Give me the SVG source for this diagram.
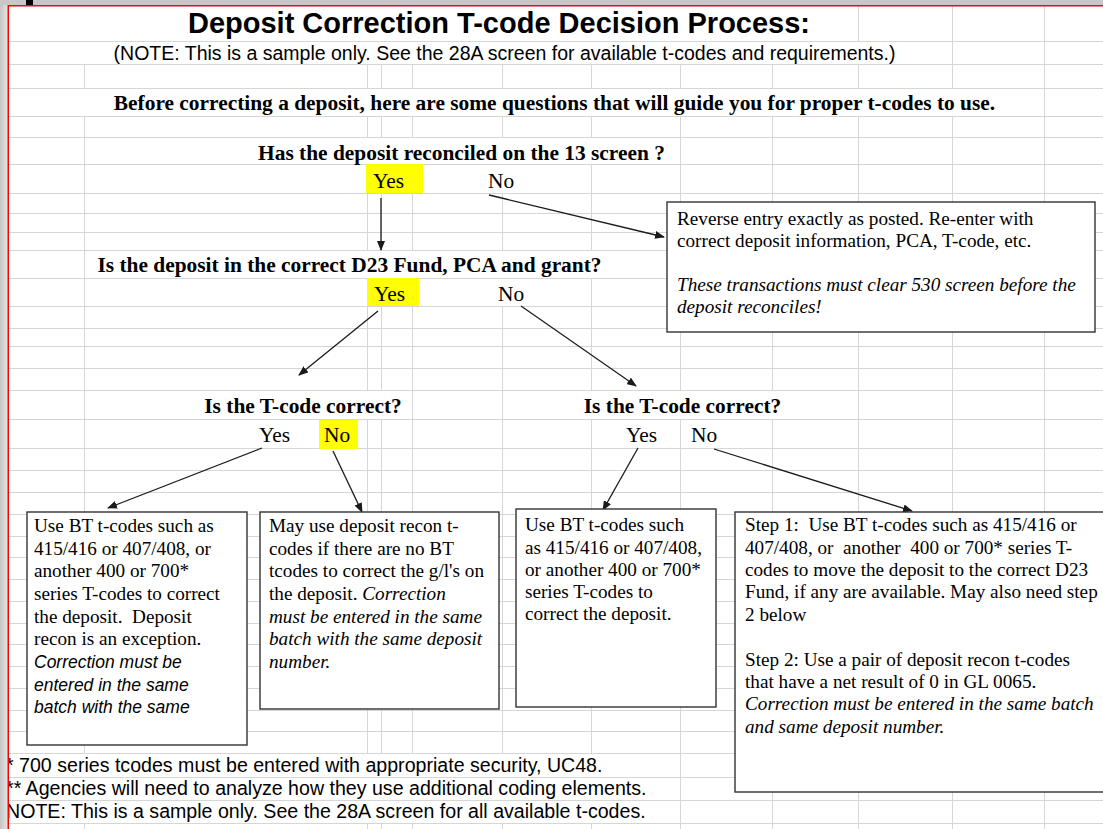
<svg xmlns="http://www.w3.org/2000/svg" width="1103" height="829" viewBox="0 0 1103 829">
<defs>
<marker id="ah" markerUnits="userSpaceOnUse" markerWidth="10" markerHeight="8" refX="9" refY="4" orient="auto">
<path d="M0,0 L10,4 L0,8 z" fill="#1a1a1a"/>
</marker>
<linearGradient id="lg" x1="0" y1="0" x2="1" y2="0">
<stop offset="0" stop-color="#c4c4c4"/>
<stop offset="1" stop-color="#e6e6e6"/>
</linearGradient>
<style>
.g{stroke:#d6d6d6;stroke-width:1;fill:none}
.h{fill:#fff}
.hl{fill:#ffff00}
.sans{font-family:"Liberation Sans",Arial,sans-serif;fill:#000}
.q{font-family:"Liberation Serif","Times New Roman",serif;font-weight:bold;font-size:21.4px;fill:#000}
.yn{font-family:"Liberation Serif","Times New Roman",serif;font-size:21.4px;fill:#000}
.bt{font-family:"Liberation Serif","Times New Roman",serif;font-size:19.2px;fill:#000}
.it{font-style:italic}
.isans{font-family:"Liberation Sans",Arial,sans-serif;font-style:italic;font-size:17.5px;fill:#000}
.box{fill:#fff;stroke:#333;stroke-width:1.4}
.c{stroke:#1a1a1a;stroke-width:1.3;fill:none;marker-end:url(#ah)}
.foot{font-family:"Liberation Sans",Arial,sans-serif;font-size:19.6px;fill:#000}
</style>
</defs>
<rect x="0" y="0" width="1103" height="829" fill="#fff"/>
<g id="grid">
<path class="g" d="M8,41.5H1103M8,64.5H1103M8,88.5H1103M8,116.5H1103M8,137.5H1103M8,164.5H1103M8,193.5H1103M8,213.5H1103M8,232.5H1103M8,250.5H1103M8,278.5H1103M8,306.5H1103M8,328.5H1103M8,346.5H1103M8,368.5H1103M8,390.5H1103M8,419.5H1103M8,448.5H1103M8,470.5H1103M8,492.5H1103M8,514.5H1103M8,536.5H1103M8,557.5H1103M8,579.5H1103M8,601.5H1103M8,623.5H1103M8,644.5H1103M8,666.5H1103M8,688.5H1103M8,710.5H1103M8,731.5H1103M8,753.5H1103M8,777.5H1103M8,800.5H1103M8,823.5H1103"/>
<path class="g" d="M84.5,5V829M367.5,5V829M381.5,5V829M412.5,5V829M502.5,5V829M591.5,5V829M680.5,5V829M772.5,5V829M858.5,5V829M952.5,5V829M1044.5,5V829"/>
<rect class="h" x="9" y="6" width="849" height="35"/>
<rect class="h" x="9" y="42" width="943" height="22"/>
<rect class="h" x="9" y="89" width="1035" height="27"/>
<rect class="h" x="85" y="138" width="595" height="26"/>
<rect class="h" x="495" y="165" width="16" height="28"/>
<rect class="h" x="85" y="251" width="595" height="27"/>
<rect class="h" x="495" y="279" width="16" height="27"/>
<rect class="h" x="360" y="391" width="46" height="28"/>
<rect class="h" x="575" y="391" width="216" height="28"/>
<rect class="h" x="9" y="754" width="671" height="23"/>
<rect class="h" x="9" y="778" width="671" height="22"/>
<rect class="h" x="9" y="801" width="671" height="22"/>
</g>
<g id="highlights">
<rect class="hl" x="366" y="164" width="57" height="29"/>
<rect class="hl" x="367" y="278" width="52" height="28"/>
<rect class="hl" x="319" y="420" width="39" height="29"/>
</g>
<g id="header">
<text class="sans" x="499" y="33" font-size="29" font-weight="bold" text-anchor="middle">Deposit Correction T-code Decision Process:</text>
<text class="sans" x="504.5" y="60" font-size="19.5" text-anchor="middle">(NOTE: This is a sample only. See the 28A screen for available t-codes and requirements.)</text>
<text class="q" x="554.5" y="110" text-anchor="middle">Before correcting a deposit, here are some questions that will guide you for proper t-codes to use.</text>
</g>
<g id="q1">
<text class="q" x="461.5" y="160" text-anchor="middle">Has the deposit reconciled on the 13 screen ?</text>
<text class="yn" x="373" y="188">Yes</text>
<text class="yn" x="488" y="188">No</text>
</g>
<g id="q2">
<text class="q" x="349.5" y="272" text-anchor="middle">Is the deposit in the correct D23 Fund, PCA and grant?</text>
<text class="yn" x="374" y="301">Yes</text>
<text class="yn" x="498" y="301">No</text>
</g>
<g id="q3a">
<text class="q" x="303" y="413" text-anchor="middle">Is the T-code correct?</text>
<text class="yn" x="259" y="442">Yes</text>
<text class="yn" x="324" y="442">No</text>
</g>
<g id="q3b">
<text class="q" x="682.5" y="413" text-anchor="middle">Is the T-code correct?</text>
<text class="yn" x="626" y="442">Yes</text>
<text class="yn" x="691" y="442">No</text>
</g>
<g id="connectors">
<line class="c" x1="381" y1="198" x2="381" y2="250"/>
<line class="c" x1="489" y1="195" x2="664" y2="237"/>
<line class="c" x1="378" y1="311" x2="299" y2="375"/>
<line class="c" x1="521" y1="306" x2="636" y2="386"/>
<line class="c" x1="262" y1="448" x2="108" y2="508"/>
<line class="c" x1="333" y1="451" x2="362" y2="512"/>
<line class="c" x1="638" y1="448" x2="603" y2="510"/>
<line class="c" x1="714" y1="449" x2="912" y2="511"/>
</g>
<g id="reverse">
<rect class="box" x="667" y="202" width="428" height="130"/>
<text class="bt" x="677" y="225">Reverse entry exactly as posted. Re-enter with</text>
<text class="bt" x="677" y="247">correct deposit information, PCA, T-code, etc.</text>
<text class="bt it" x="677" y="291">These transactions must clear 530 screen before the</text>
<text class="bt it" x="677" y="313">deposit reconciles!</text>
</g>
<g id="box1">
<rect class="box" x="27" y="512" width="220" height="233"/>
<text class="bt" x="34" y="532">Use BT t-codes such as</text>
<text class="bt" x="34" y="555">415/416 or 407/408, or</text>
<text class="bt" x="34" y="577">another 400 or 700*</text>
<text class="bt" x="34" y="600">series T-codes to correct</text>
<text class="bt" x="34" y="623" xml:space="preserve">the deposit.  Deposit</text>
<text class="bt" x="34" y="645">recon is an exception.</text>
<text class="isans" x="34" y="668">Correction must be</text>
<text class="isans" x="34" y="691">entered in the same</text>
<text class="isans" x="34" y="713">batch with the same</text>
</g>
<g id="box2">
<rect class="box" x="260" y="512" width="239" height="197"/>
<text class="bt" x="269" y="532">May use deposit recon t-</text>
<text class="bt" x="269" y="555">codes if there are no BT</text>
<text class="bt" x="269" y="577">tcodes to correct the g/l's on</text>
<text class="bt" x="269" y="600" xml:space="preserve">the deposit. <tspan class="it">Correction</tspan></text>
<text class="bt it" x="269" y="623">must be entered in the same</text>
<text class="bt it" x="269" y="645">batch with the same deposit</text>
<text class="bt it" x="269" y="668">number.</text>
</g>
<g id="box3">
<rect class="box" x="516" y="509" width="200" height="198"/>
<text class="bt" x="525" y="531">Use BT t-codes such</text>
<text class="bt" x="525" y="554">as 415/416 or 407/408,</text>
<text class="bt" x="525" y="576">or another 400 or 700*</text>
<text class="bt" x="525" y="598">series T-codes to</text>
<text class="bt" x="525" y="620">correct the deposit.</text>
</g>
<g id="box4">
<rect class="box" x="735" y="512" width="380" height="280"/>
<text class="bt" x="745" y="531" xml:space="preserve">Step 1:  Use BT t-codes such as 415/416 or</text>
<text class="bt" x="745" y="554" xml:space="preserve">407/408, or  another  400 or 700* series T-</text>
<text class="bt" x="745" y="576">codes to move the deposit to the correct D23</text>
<text class="bt" x="745" y="598">Fund, if any are available. May also need step</text>
<text class="bt" x="745" y="621">2 below</text>
<text class="bt" x="745" y="666">Step 2: Use a pair of deposit recon t-codes</text>
<text class="bt" x="745" y="688">that have a net result of 0 in GL 0065.</text>
<text class="bt it" x="745" y="710">Correction must be entered in the same batch</text>
<text class="bt it" x="745" y="733">and same deposit number.</text>
</g>
<g id="footnotes">
<text class="foot" x="6" y="772">* 700 series tcodes must be entered with appropriate security, UC48.</text>
<text class="foot" x="6" y="795">** Agencies will need to analyze how they use additional coding elements.</text>
<text class="foot" x="6" y="818">NOTE: This is a sample only. See the 28A screen for all available t-codes.</text>
</g>
<g id="frame">
<rect x="0" y="0" width="8" height="829" fill="url(#lg)"/>
<rect x="0" y="0" width="1103" height="5" fill="#c8c8c8"/>
<rect x="26" y="0" width="7" height="5" fill="#000"/>
<rect x="8" y="5" width="1095" height="1.5" fill="#ff0000"/>
<rect x="7.5" y="5" width="1.5" height="824" fill="#ff0000"/>
</g>
</svg>
